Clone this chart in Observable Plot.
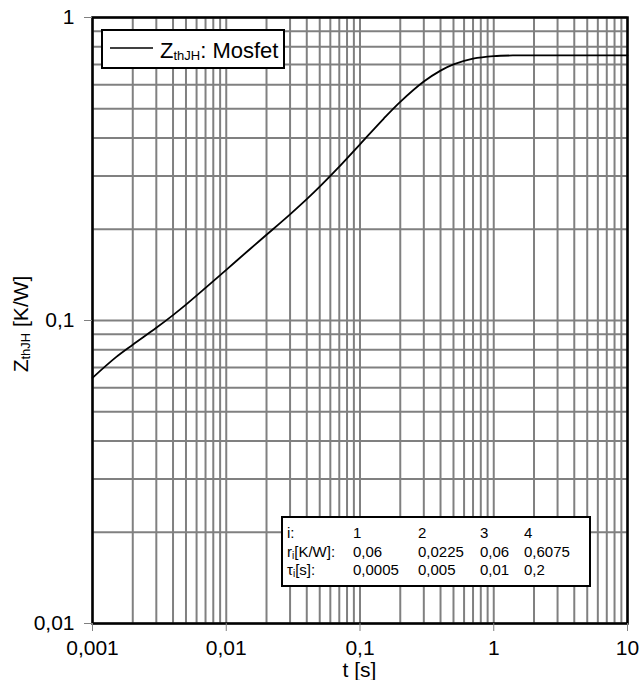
<!DOCTYPE html>
<html><head><meta charset="utf-8">
<script src="https://cdn.jsdelivr.net/npm/d3@7"></script>
<script src="https://cdn.jsdelivr.net/npm/@observablehq/plot@0.6"></script>
<style>
html,body{margin:0;padding:0;background:#fff}
#chart svg{display:block}
</style>
</head><body><div id="chart"></div>
<script>
// Curve values: t [s] and Z_thJH [K/W]
const timeS = [0.001, 0.0015, 0.002, 0.003, 0.004, 0.005, 0.007, 0.01, 0.015, 0.02, 0.03, 0.04, 0.05, 0.07, 0.1, 0.15, 0.2, 0.3, 0.4, 0.5, 0.7, 1, 1.5, 2, 3, 5, 10];
const zthMosfet = [0.0647, 0.0757, 0.0832, 0.0946, 0.1042, 0.1128, 0.1281, 0.147, 0.1719, 0.1918, 0.2241, 0.2515, 0.2765, 0.3219, 0.3815, 0.463, 0.5265, 0.6145, 0.6678, 0.7001, 0.7316, 0.7459, 0.7497, 0.75, 0.75, 0.75, 0.75];

// Axis ticks and labels
const xTicks = [0.001, 0.01, 0.1, 1, 10];
const xTickLabels = ["0,001", "0,01", "0,1", "1", "10"];
const yTicks = [0.01, 0.1, 1];
const yTickLabels = ["0,01", "0,1", "1"];

// Table of the Foster model parameters (text in the chart)
const tableIndex = ["1", "2", "3", "4"];
const tableR = ["0,06", "0,0225", "0,06", "0,6075"];
const tableTau = ["0,0005", "0,005", "0,01", "0,2"];

const legendName = ": Mosfet";
const xLabel = "t [s]";

const data = timeS.map((t, i) => ({t, z: zthMosfet[i]}));

// Grid lines at 1..9 multiples of each decade (from the log scale itself)
const xGrid = d3.scaleLog().domain([xTicks[0], xTicks[xTicks.length - 1]]).ticks();
const yGrid = d3.scaleLog().domain([yTicks[0], yTicks[yTicks.length - 1]]).ticks();

const FONT = "'Liberation Sans', Arial, Helvetica, sans-serif";

const plot = Plot.plot({
  width: 639,
  height: 680,
  marginLeft: 92,
  marginRight: 12,
  marginTop: 17,
  marginBottom: 57,
  style: {fontFamily: FONT, background: "white", color: "black", overflow: "visible"},
  x: {type: "log", domain: [0.001, 10]},
  y: {type: "log", domain: [0.01, 1]},
  marks: [
    Plot.ruleX(xGrid, {stroke: "#808080", strokeWidth: 2}),
    Plot.ruleY(yGrid, {stroke: "#808080", strokeWidth: 2}),
    Plot.line(data, {x: "t", y: "z", stroke: "black", strokeWidth: 1.8, curve: "catmull-rom"}),
    Plot.frame({stroke: "black", strokeWidth: 2.5}),
    Plot.axisX({ticks: xTicks, tickFormat: d => xTickLabels[xTicks.indexOf(d)], tickSize: 8, tickPadding: 9,
      stroke: "#808080", fill: "black", fontSize: 21, label: null}),
    Plot.axisY({ticks: yTicks, tickFormat: d => yTickLabels[yTicks.indexOf(d)], tickSize: 8, tickPadding: 10,
      stroke: "#808080", fill: "black", fontSize: 21, label: null})
  ]
});

document.getElementById("chart").appendChild(plot);

const svg = d3.select(plot);
const xs = plot.scale("x"), ys = plot.scale("y");
const x0 = xs.range[0], x1 = xs.range[1];
const yTop = ys.range[1], yBot = ys.range[0];

// x-axis title
svg.append("text")
  .attr("x", (x0 + x1) / 2).attr("y", 677)
  .attr("text-anchor", "middle").attr("font-size", 21).attr("font-family", FONT).attr("fill", "black")
  .text(xLabel);

// y-axis title with subscript
const yl = svg.append("text")
  .attr("transform", `translate(28,${(yTop + yBot) / 2 + 4}) rotate(-90)`)
  .attr("text-anchor", "middle").attr("font-size", 21).attr("font-family", FONT).attr("fill", "black");
yl.append("tspan").text("Z");
yl.append("tspan").attr("font-size", 13).attr("dy", 2).text("thJH");
yl.append("tspan").attr("dy", -2).text(" [K/W]");

// Legend box
const lg = svg.append("g").attr("text-anchor", "start");
lg.append("rect").attr("x", 102).attr("y", 30).attr("width", 182).attr("height", 38)
  .attr("fill", "white").attr("stroke", "black").attr("stroke-width", 2);
lg.append("line").attr("x1", 110).attr("x2", 153).attr("y1", 48).attr("y2", 48)
  .attr("stroke", "black").attr("stroke-width", 1.5);
const lt = lg.append("text").attr("x", 160).attr("y", 58).attr("font-size", 22)
  .attr("text-anchor", "start").attr("font-family", FONT).attr("fill", "black");
lt.append("tspan").text("Z");
lt.append("tspan").attr("font-size", 13).attr("dy", 2).text("thJH");
lt.append("tspan").attr("dy", -2).text(legendName);

// Parameter table
const tg = svg.append("g").attr("font-family", FONT).attr("font-size", 15).attr("fill", "black")
  .attr("text-anchor", "start");
tg.append("rect").attr("x", 282).attr("y", 517).attr("width", 308).attr("height", 69)
  .attr("fill", "white").attr("stroke", "black").attr("stroke-width", 2);
const colX = [353, 418, 480, 524];
const rowY = [538, 556.5, 575];
tg.append("text").attr("x", 287).attr("y", rowY[0]).attr("text-anchor", "start").text("i:");
const r1 = tg.append("text").attr("x", 287).attr("y", rowY[1]).attr("text-anchor", "start");
r1.append("tspan").text("r");
r1.append("tspan").attr("font-size", 10).attr("dy", 2).text("i");
r1.append("tspan").attr("dy", -2).text("[K/W]:");
const r2 = tg.append("text").attr("x", 287).attr("y", rowY[2]).attr("text-anchor", "start");
r2.append("tspan").text("τ");
r2.append("tspan").attr("font-size", 10).attr("dy", 2).text("i");
r2.append("tspan").attr("dy", -2).text("[s]:");
[tableIndex, tableR, tableTau].forEach((row, ri) => {
  row.forEach((v, ci) => {
    tg.append("text").attr("x", colX[ci]).attr("y", rowY[ri]).attr("text-anchor", "start").text(v);
  });
});
</script>
</body></html>
